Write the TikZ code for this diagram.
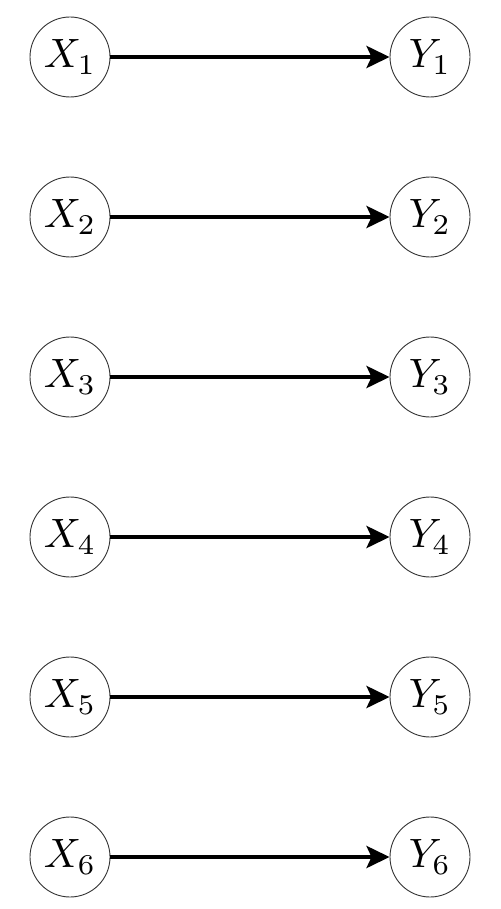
\documentclass[tikz,border=0pt]{standalone}
\usepackage{graphicx}
\usetikzlibrary{arrows.meta}
\begin{document}
\begin{tikzpicture}[x=1pt,y=-1pt,
  var/.style={circle,draw=black!80,line width=0.9pt,minimum size=80pt,inner sep=0pt},
  link/.style={line width=4pt,-{Stealth[length=23pt,width=22pt,inset=5pt]}}]
\useasboundingbox (0,0) rectangle (500,909);
\foreach \i in {1,...,6}{
  \pgfmathsetmacro{\yy}{57+160*(\i-1)}
  \node[var] (x\i) at (70,\yy) {\raisebox{-2pt}{\scalebox{4.1}{$X_{\i}$}}};
  \node[var] (y\i) at (430,\yy) {\raisebox{-2pt}{\scalebox{4.1}{$Y_{\i}$}}};
  \draw[link] (x\i) -- (y\i);
}
\end{tikzpicture}
\end{document}
